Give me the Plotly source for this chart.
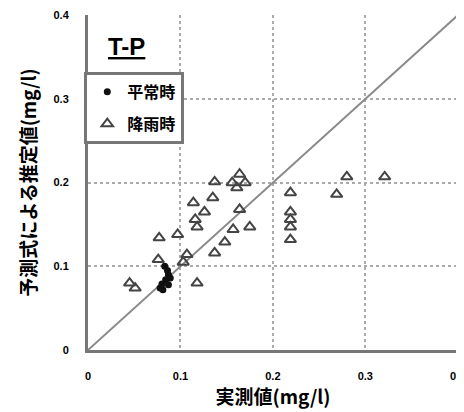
import plotly.graph_objects as go

# 平常時 (normal) – measured vs estimated
normal_x = [0.083, 0.086, 0.087, 0.089, 0.084, 0.080, 0.078, 0.081, 0.087]
normal_y = [0.100, 0.095, 0.090, 0.086, 0.084, 0.079, 0.074, 0.072, 0.078]

# 降雨時 (rainfall)
rain_x = [0.045, 0.051, 0.077, 0.097, 0.076, 0.107, 0.103, 0.118, 0.114, 0.126,
          0.116, 0.118, 0.135, 0.137, 0.156, 0.161, 0.164, 0.170, 0.164, 0.175,
          0.157, 0.148, 0.137, 0.219, 0.219, 0.219, 0.219, 0.219, 0.269, 0.280,
          0.321]
rain_y = [0.080, 0.074, 0.134, 0.138, 0.108, 0.114, 0.105, 0.080, 0.176, 0.165,
          0.156, 0.147, 0.182, 0.201, 0.200, 0.194, 0.210, 0.200, 0.168, 0.147,
          0.144, 0.129, 0.116, 0.188, 0.165, 0.156, 0.147, 0.132, 0.186, 0.207,
          0.207]

line_xy = [0, 0.4]
tick_vals = [0, 0.1, 0.2, 0.3, 0.4]
tick_text = ["<b>0</b>", "<b>0.1</b>", "<b>0.2</b>", "<b>0.3</b>", "<b>0.4</b>"]

fig = go.Figure()
fig.add_trace(go.Scatter(x=line_xy, y=line_xy, mode="lines",
                         line=dict(color="#8a8a8a", width=2), showlegend=False,
                         hoverinfo="skip"))
fig.add_trace(go.Scatter(x=normal_x, y=normal_y, mode="markers", name="<b>平常時</b>",
                         legendgroup="a",
                         marker=dict(symbol="circle", color="#111", size=7)))
fig.add_trace(go.Scatter(x=rain_x, y=rain_y, mode="markers", name="<b>降雨時</b>",
                         legendgroup="b",
                         marker=dict(symbol="triangle-up-open", color="#444", size=10,
                                     line=dict(width=2, color="#444"))))

axis_common = dict(range=[0, 0.4003], tickvals=tick_vals, ticktext=tick_text,
                   showgrid=True, gridcolor="#aaaaaa", griddash="dot", gridwidth=2,
                   zeroline=False, showline=True, linecolor="#777", linewidth=3,
                   ticks="", automargin=False, ticklabeloverflow="allow",
                   tickfont=dict(family="Liberation Sans", size=11, color="#000"))

fig.update_xaxes(**axis_common, ticklabelstandoff=14,
                 title=dict(text="<b>実測値(mg/l)</b>", standoff=6,
                            font=dict(family="Noto Sans CJK JP", size=19, color="#000")))
fig.update_yaxes(**axis_common, ticklabelstandoff=14,
                 title=dict(text="<b>予測式による推定値(mg/l)</b>", standoff=12,
                            font=dict(family="Noto Sans CJK JP", size=19, color="#000")))

fig.add_annotation(xref="paper", yref="paper", x=0.105, y=0.905, xanchor="center",
                   yanchor="middle", showarrow=False,
                   text="<b><u>T-P</u></b>",
                   font=dict(family="Liberation Sans", size=24, color="#000"))

fig.update_layout(
    width=456, height=404,
    margin=dict(l=80, r=6, t=7, b=62),
    plot_bgcolor="white", paper_bgcolor="white",
    font=dict(family="Noto Sans CJK JP", color="#000"),
    legend=dict(x=-0.01, y=0.83, xanchor="left", yanchor="top",
                bgcolor="white", bordercolor="#777", borderwidth=3,
                font=dict(family="Noto Sans CJK JP", size=16, color="#000"),
                itemwidth=30, tracegroupgap=8),
)

fig.write_html("out.html")
